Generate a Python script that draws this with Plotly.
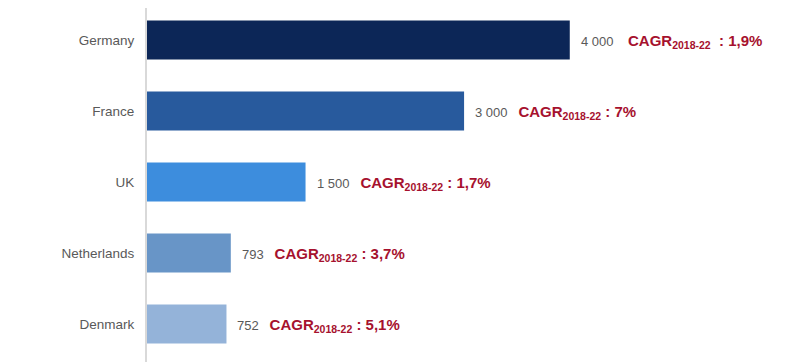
import plotly.graph_objects as go

countries = ["Germany", "France", "UK", "Netherlands", "Denmark"]
values = [4000, 3000, 1500, 793, 752]
value_labels = ["4 000", "3 000", "1 500", "793", "752"]
cagr = ["1,9%", "7%", "1,7%", "3,7%", "5,1%"]
colors = ["#0C2657", "#285A9D", "#3D8DDD", "#6895C7", "#94B3D9"]

RED = "#A6112E"
GRAY = "#595959"

fig = go.Figure()
fig.add_trace(go.Bar(
    y=countries, x=values, orientation="h",
    marker=dict(color=colors, line=dict(width=0)),
    width=0.55, hoverinfo="skip",
))

gaps = ["    ", "   ", "   ", "   ", "   "]
pre_colon = [" ", "", "", "", ""]
for c, v, lab, g, gap, pc in zip(countries, values, value_labels, cagr, gaps, pre_colon):
    txt = (f'<span style="color:{GRAY};font-size:13px">{lab}</span>{gap}'
           f'<span style="color:{RED};font-size:15px"><b>CAGR<sub>2018-22</sub>{pc} : {g}</b></span>')
    fig.add_annotation(x=v, y=c, text=txt, showarrow=False, xanchor="left",
                       xshift=9, yshift=-1, font=dict(family="Liberation Sans, Arial", size=13, color=GRAY))

fig.update_layout(
    width=800, height=362,
    margin=dict(l=139, r=0, t=0, b=0, autoexpand=False),
    plot_bgcolor="white", paper_bgcolor="white",
    showlegend=False,
    font=dict(family="Liberation Sans, Arial", size=13, color=GRAY),
)
fig.update_xaxes(range=[0, 6254], visible=False, showgrid=False, zeroline=False, automargin=False)
fig.update_yaxes(
    categoryorder="array", categoryarray=countries[::-1],
    autorange=False, range=[-0.648, 4.451], automargin=False,
    showline=True, linecolor="#D9D9D9", linewidth=2,
    showgrid=False, zeroline=False, ticks="", ticklabelstandoff=8,
    tickfont=dict(size=13.5, color=GRAY),
)

fig.write_html("out.html")
